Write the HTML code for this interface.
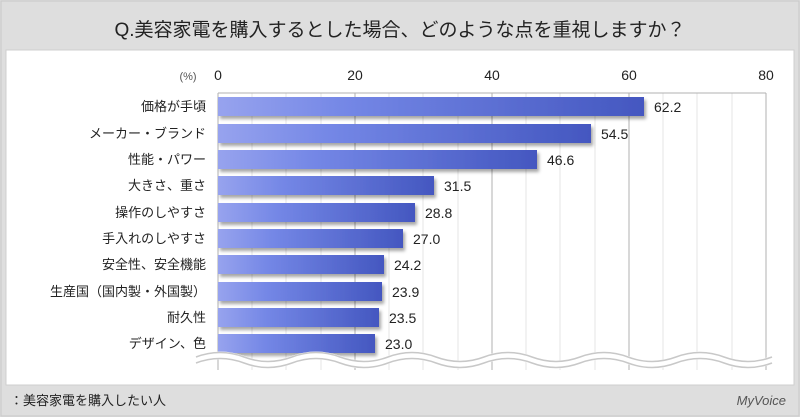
<!DOCTYPE html>
<html><head><meta charset="utf-8"><style>
body{margin:0;width:800px;height:417px;background:#e0e0e0;overflow:hidden;font-family:"Liberation Sans","Noto Sans CJK JP",sans-serif;}
</style></head><body>
<svg width="800" height="417" xmlns="http://www.w3.org/2000/svg" style="position:absolute;left:0;top:0">
<defs>
<linearGradient id="g" x1="0" x2="1" y1="0" y2="0"><stop offset="0" stop-color="#97a3ee"/><stop offset="0.3" stop-color="#7487e6"/><stop offset="1" stop-color="#4457c0"/></linearGradient>
<filter id="s"><feDropShadow dx="2" dy="3" stdDeviation="1.5" flood-color="#000" flood-opacity="0.35"/></filter>
</defs>
<rect x="0" y="0" width="800" height="417" fill="#dedede"/>
<rect x="1" y="1" width="798" height="415" fill="none" stroke="#c8c8c8"/>
<text x="400" y="36" font-size="19" text-anchor="middle" fill="#222">Q.美容家電を購入するとした場合、どのような点を重視しますか？</text>
<rect x="6" y="50" width="788" height="335" fill="#fff" stroke="#cfcfcf"/>
<g font-size="14" fill="#222" text-anchor="middle">
<text x="188" y="80" font-size="11" fill="#555">(%)</text>
<text x="218" y="80">0</text><text x="355" y="80">20</text><text x="492" y="80">40</text><text x="629" y="80">60</text><text x="766" y="80">80</text>
</g>
<g stroke="#e4e4e4">
<line x1="252" y1="93" x2="252" y2="370"/><line x1="286" y1="93" x2="286" y2="370"/><line x1="321" y1="93" x2="321" y2="370"/>
<line x1="389" y1="93" x2="389" y2="370"/><line x1="423" y1="93" x2="423" y2="370"/><line x1="458" y1="93" x2="458" y2="370"/>
<line x1="526" y1="93" x2="526" y2="370"/><line x1="560" y1="93" x2="560" y2="370"/><line x1="595" y1="93" x2="595" y2="370"/>
<line x1="663" y1="93" x2="663" y2="370"/><line x1="697" y1="93" x2="697" y2="370"/><line x1="732" y1="93" x2="732" y2="370"/>
</g>
<g stroke="#b0b0b0">
<line x1="355" y1="93" x2="355" y2="370"/><line x1="492" y1="93" x2="492" y2="370"/><line x1="629" y1="93" x2="629" y2="370"/>
<line x1="766" y1="93" x2="766" y2="370"/><line x1="218" y1="93" x2="218" y2="370"/><line x1="218" y1="93" x2="766" y2="93"/>
</g>
<g filter="url(#s)" fill="url(#g)">
<rect x="218" y="97" width="426" height="19"/>
<rect x="218" y="124" width="373" height="19"/>
<rect x="218" y="150" width="319" height="19"/>
<rect x="218" y="176" width="216" height="19"/>
<rect x="218" y="203" width="197" height="19"/>
<rect x="218" y="229" width="185" height="19"/>
<rect x="218" y="255" width="166" height="19"/>
<rect x="218" y="282" width="164" height="19"/>
<rect x="218" y="308" width="161" height="19"/>
<rect x="218" y="334" width="157" height="19"/>
</g>
<g font-size="14" fill="#222">
<text x="654" y="112">62.2</text><text x="601" y="139">54.5</text><text x="547" y="165">46.6</text>
<text x="444" y="191">31.5</text><text x="425" y="218">28.8</text><text x="413" y="244">27.0</text>
<text x="394" y="270">24.2</text><text x="392" y="297">23.9</text><text x="389" y="323">23.5</text><text x="385" y="349">23.0</text>
</g>
<g font-size="13" fill="#222" text-anchor="end">
<text x="206" y="111">価格が手頃</text><text x="206" y="138">メーカー・ブランド</text><text x="206" y="164">性能・パワー</text>
<text x="206" y="190">大きさ、重さ</text><text x="206" y="217">操作のしやすさ</text><text x="206" y="243">手入れのしやすさ</text>
<text x="206" y="269">安全性、安全機能</text><text x="206" y="296">生産国（国内製・外国製）</text><text x="206" y="322">耐久性</text><text x="206" y="348">デザイン、色</text>
</g>
<path d="M196 360 q24 -9 48 0 t48 0 t48 0 t48 0 t48 0 t48 0 t48 0 t48 0 t48 0 t48 0 t48 0 t48 0" fill="none" stroke="#fff" stroke-width="8"/>
<path d="M196 357 q24 -9 48 0 t48 0 t48 0 t48 0 t48 0 t48 0 t48 0 t48 0 t48 0 t48 0 t48 0 t48 0" fill="none" stroke="#c8c8c8" stroke-width="1.5"/>
<path d="M196 363 q24 -9 48 0 t48 0 t48 0 t48 0 t48 0 t48 0 t48 0 t48 0 t48 0 t48 0 t48 0 t48 0" fill="none" stroke="#c8c8c8" stroke-width="1.5"/>
<text x="10" y="405" font-size="13" fill="#222">：美容家電を購入したい人</text>
<text x="786" y="405" font-size="13" fill="#555" text-anchor="end" font-style="italic">MyVoice</text>
</svg>
</body></html>
